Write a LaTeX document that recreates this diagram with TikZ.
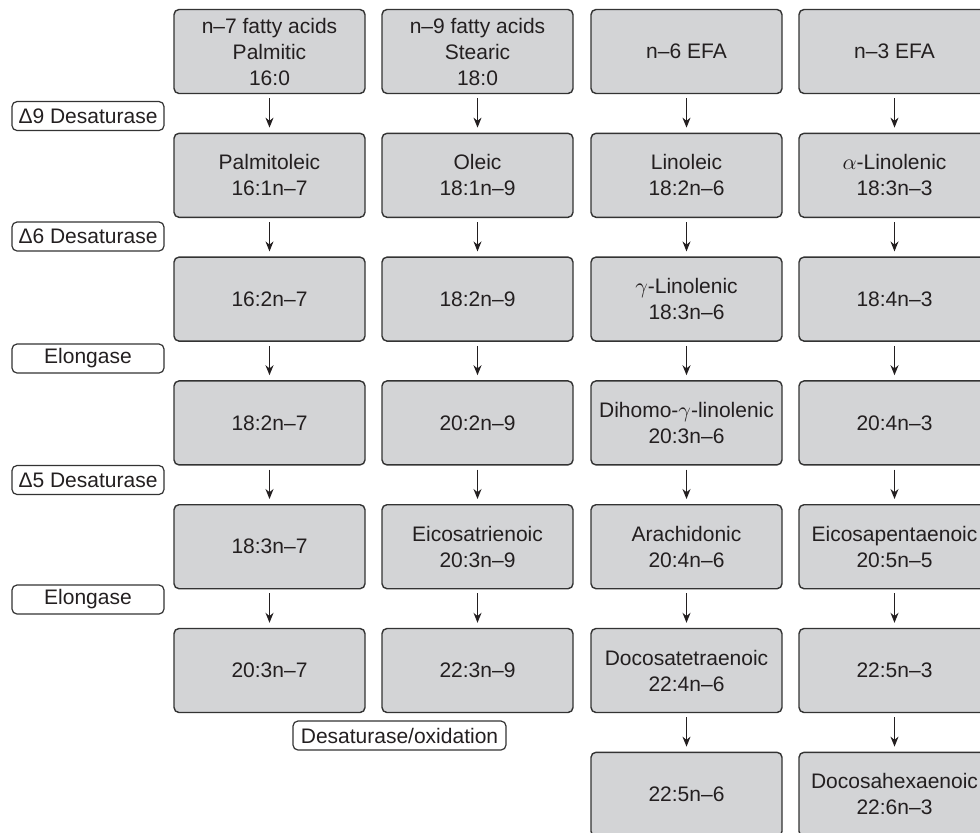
\documentclass[tikz,border=0pt]{standalone}
\usepackage{fontspec}
\setmainfont{Liberation Sans}
\usepackage{tikz}
\usetikzlibrary{arrows.meta}
\usetikzlibrary{positioning}
\usepackage{xcolor}
\definecolor{boxgrey}{HTML}{D3D4D6}
\definecolor{edgegrey}{HTML}{333333}
\definecolor{inkblack}{HTML}{231F20}

\begin{document}
\begin{tikzpicture}[
        x=0.5pt, y=-0.5pt,
        every node/.style={font=\fontsize{10.5}{13}\selectfont, text=inkblack},
        acid/.style={draw=edgegrey, line width=0.7pt, fill=boxgrey,
          rounded corners=2.5pt, minimum width=95.5pt, minimum height=42pt,
          inner sep=0pt, align=center},
        enzyme/.style={draw=edgegrey, line width=0.6pt, fill=white,
          rounded corners=2.5pt, minimum width=76pt, minimum height=14.5pt,
          inner sep=0pt},
        arrow/.style={-{Stealth[length=5pt, width=4pt]}, line width=0.65pt,
          draw=inkblack, shorten <=2pt, shorten >=2.5pt},
      ]
      \useasboundingbox (0,0) rectangle (980,832);
      \clip (0,0) rectangle (980,832);

      % === n-7 column ===
      \foreach \r/\txt in {1/{n–7 fatty acids\\Palmitic\\16:0}, 2/{Palmitoleic\\16:1n–7},
          3/{16:2n–7}, 4/{18:2n–7}, 5/{18:3n–7}, 6/{20:3n–7}} {
        \node[acid] (a\r) at (269.5, {51.5+123.8*(\r-1)}) {\txt};
      }

      % === n-9 column ===
      \foreach \r/\txt in {1/{n–9 fatty acids\\Stearic\\18:0}, 2/{Oleic\\18:1n–9},
          3/{18:2n–9}, 4/{20:2n–9}, 5/{Eicosatrienoic\\20:3n–9}, 6/{22:3n–9}} {
        \node[acid] (b\r) at (477.5, {51.5+123.8*(\r-1)}) {\txt};
      }

      % === n-6 column ===
      \foreach \r/\txt in {1/{n–6 EFA}, 2/{Linoleic\\18:2n–6},
          3/{$\gamma$-Linolenic\\18:3n–6}, 4/{Dihomo-$\gamma$-linolenic\\20:3n–6},
          5/{Arachidonic\\20:4n–6}, 6/{Docosatetraenoic\\22:4n–6}, 7/{22:5n–6}} {
        \node[acid] (c\r) at (686.5, {51.5+123.8*(\r-1)}) {\txt};
      }

      % === n-3 column ===
      \foreach \r/\txt in {1/{n–3 EFA}, 2/{$\alpha$-Linolenic\\18:3n–3},
          3/{18:4n–3}, 4/{20:4n–3}, 5/{Eicosapentaenoic\\20:5n–5},
          6/{22:5n–3}, 7/{Docosahexaenoic\\22:6n–3}} {
        \node[acid] (d\r) at (894.5, {51.5+123.8*(\r-1)}) {\txt};
      }

      % arrows down each column
      \foreach \r [evaluate=\r as \n using int(\r+1)] in {1,...,5} {
        \draw[arrow] (a\r) -- (a\n);
        \draw[arrow] (b\r) -- (b\n);
      }
      \foreach \r [evaluate=\r as \n using int(\r+1)] in {1,...,6} {
        \draw[arrow] (c\r) -- (c\n);
        \draw[arrow] (d\r) -- (d\n);
      }

      % enzymes on the left
      \node[enzyme] (desat9) at (88, 116) {Δ9 Desaturase};
      \node[enzyme] (desat6) at (88, 236.5) {Δ6 Desaturase};
      \node[enzyme] (elong1) at (88, 358.5) {Elongase};
      \node[enzyme] (desat5) at (88, 480) {Δ5 Desaturase};
      \node[enzyme] (elong2) at (88, 599.5) {Elongase};
      \node[enzyme, minimum width=106.5pt] (oxid) at (399.5, 735.5) {Desaturase/oxidation};

\end{tikzpicture}
\end{document}
